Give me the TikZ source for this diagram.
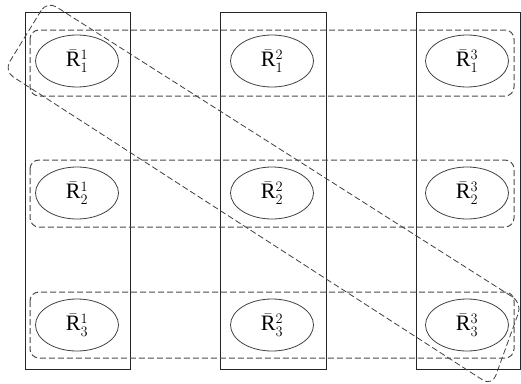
\documentclass[tikz,border=0pt]{standalone}
\usepackage{fontspec}
\setmainfont{Liberation Serif}
\usetikzlibrary{shapes.geometric}
\tikzset{
  colbox/.style={draw=black!85, line width=0.8pt},
  rowbox/.style={draw=black!70, line width=1pt, dash pattern=on 6pt off 3pt, rounded corners=9pt},
  diagbox/.style={draw=black!75, line width=0.8pt, dash pattern=on 6pt off 3pt, rounded corners=11pt},
  rel/.style={draw=black!75, line width=0.8pt, ellipse, minimum width=83pt, minimum height=52pt, inner sep=0pt, font=\fontsize{22}{26}\selectfont},
}
\newcommand{\Rb}[2]{$\bar{\mathrm{R}}^{#1}_{#2}$}
\begin{document}
\begin{tikzpicture}[x=1pt,y=-1pt]
\useasboundingbox (0,0) rectangle (521,383);
\fill[white] (0,0) rectangle (521,383);
% columns
\draw[colbox] (25,12) rectangle (130,369);
\draw[colbox] (220,12) rectangle (326,369);
\draw[colbox] (416,12) rectangle (520,369);
% rows
\draw[rowbox] (30,30) rectangle (514,96);
\draw[rowbox] (30,160) rectangle (514,227);
\draw[rowbox] (30,292) rectangle (514,358);
% diagonal
\begin{scope}
\clip (0,0) rectangle (521,383);
\coordinate (d1) at (47,1);
\coordinate (d2) at (4,71);
\coordinate (d3) at (492,386);
\coordinate (d4) at (522,303);
\draw[diagbox] (d1) -- (d2) -- (d3) -- (d4) -- cycle;
\end{scope}
% relations
\node[rel] (r11) at (77,61) {\Rb{1}{1}};
\node[rel] (r12) at (272,61) {\Rb{2}{1}};
\node[rel] (r13) at (467,61) {\Rb{3}{1}};
\node[rel] (r21) at (77,193) {\Rb{1}{2}};
\node[rel] (r22) at (272,193) {\Rb{2}{2}};
\node[rel] (r23) at (467,193) {\Rb{3}{2}};
\node[rel] (r31) at (77,325) {\Rb{1}{3}};
\node[rel] (r32) at (272,325) {\Rb{2}{3}};
\node[rel] (r33) at (467,325) {\Rb{3}{3}};
\end{tikzpicture}
\end{document}
